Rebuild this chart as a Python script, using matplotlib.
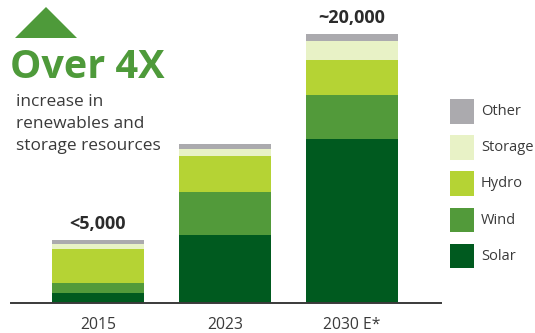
import matplotlib
matplotlib.use("Agg")
import matplotlib.pyplot as plt
from matplotlib.patches import Polygon, Rectangle

plt.rcParams['font.family'] = ['Open Sans', 'DejaVu Sans']

categories = ["2015", "2023", "2030 E*"]
series_names = ["Solar", "Wind", "Hydro", "Storage", "Other"]
solar = [710, 5030, 12180]
wind = [745, 3200, 3280]
hydro = [2530, 2680, 2600]
storage = [370, 520, 1415]
other = [300, 370, 520]
totals_labels = ["<5,000", "", "~20,000"]
colors = ["#005a1f", "#529a3a", "#b5d334", "#e8f2c6", "#abaaae"]

series = [solar, wind, hydro, storage, other]

W, H = 535, 333
fig = plt.figure(figsize=(W / 100, H / 100), dpi=100)

base_px = 302.7
ax = fig.add_axes([11 / W, (H - base_px) / H, 430 / W, base_px / H])
ax.set_xlim((11 - 98) / 127, (441 - 98) / 127)
ax.set_ylim(0, base_px * 74.5)

x = list(range(len(categories)))
bottom = [0] * len(categories)
for vals, c, name in zip(series, colors, series_names):
    ax.bar(x, vals, bottom=bottom, width=92 / 127, color=c, linewidth=0, label=name)
    bottom = [bt + v for bt, v in zip(bottom, vals)]

for xi, tot, lab in zip(x, bottom, totals_labels):
    if lab:
        ax.text(xi, tot + 74.5 * 16, lab, ha="center", va="center",
                fontsize=13, fontweight="bold", color="#2b2b2b")

for s in ["top", "right", "left"]:
    ax.spines[s].set_visible(False)
ax.spines["bottom"].set_color("#3a3a3a")
ax.spines["bottom"].set_linewidth(1.4)
ax.set_yticks([])
ax.set_xticks(x)
ax.set_xticklabels(categories, fontsize=11.3, color="#3a3a3a")
ax.tick_params(axis="x", length=0, pad=10)

# Legend (drawn manually, top to bottom: Other ... Solar)
leg_top = 99
for i, (c, n) in enumerate(zip(colors[::-1], series_names[::-1])):
    y0 = leg_top + i * 36.2
    fig.patches.append(Rectangle((450 / W, (H - y0 - 24.5) / H), 24 / W, 24.5 / H,
                                 transform=fig.transFigure, color=c, linewidth=0))
    fig.text(481 / W, (H - y0 - 12.5) / H, n, fontsize=10.5, color="#3a3a3a",
             ha="left", va="center")

# Headline graphic
tri = Polygon([[15 / W, (H - 38) / H], [77 / W, (H - 38) / H], [46 / W, (H - 7) / H]],
              closed=True, transform=fig.transFigure, color="#4e9a3a", linewidth=0)
fig.patches.append(tri)
fig.text(10 / W, (H - 67) / H, "Over 4X", fontsize=28.5, fontweight="bold",
         color="#4e9a3a", ha="left", va="center")
for j, line in enumerate(["increase in", "renewables and", "storage resources"]):
    fig.text(16 / W, (H - 102 - 22 * j) / H, line, fontsize=12.4, color="#3a3a3a",
             ha="left", va="center")

fig.savefig("out.png", dpi=100)
